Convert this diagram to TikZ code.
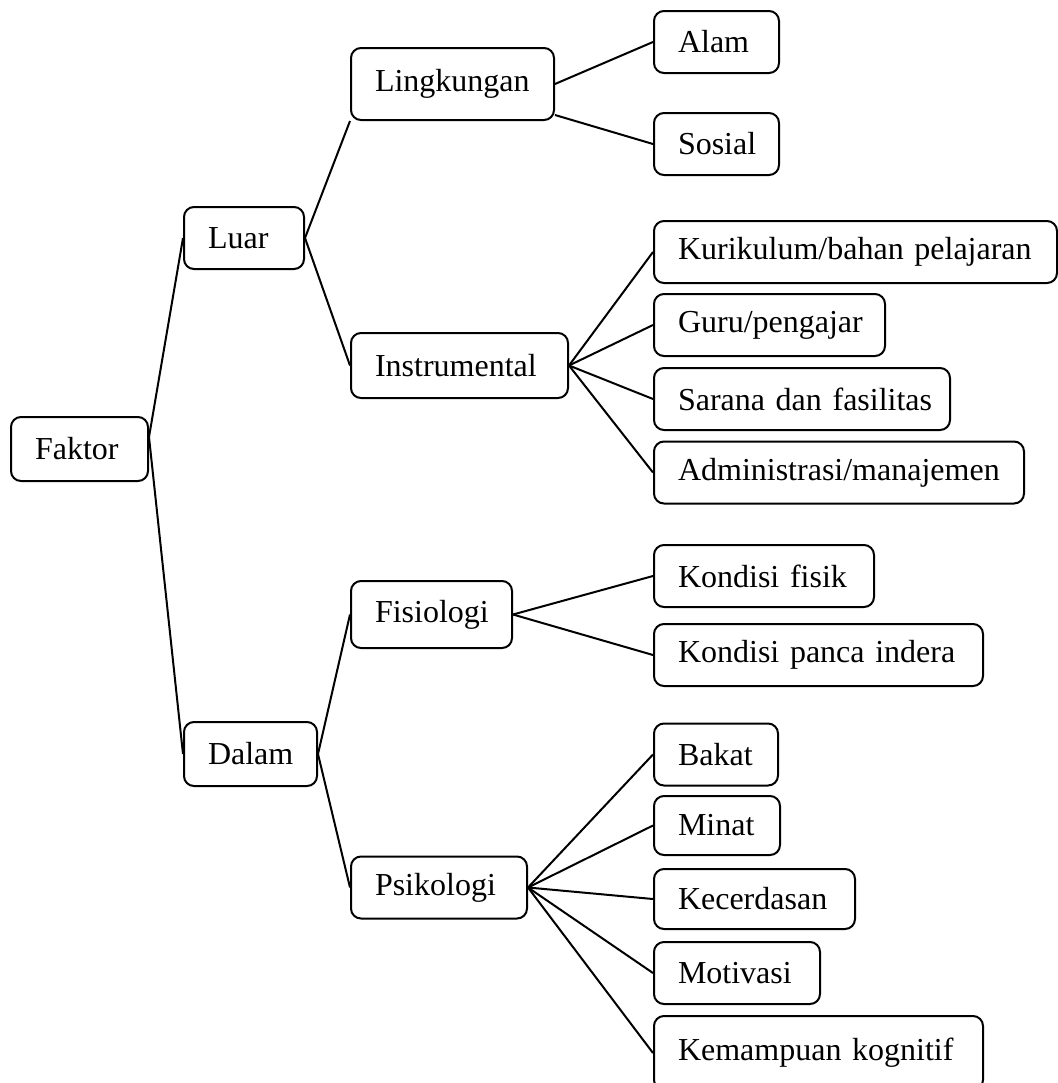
\documentclass[tikz,border=0pt]{standalone}
\usepackage{fontspec}
\setmainfont{Liberation Serif}
\usepackage{tikz}

\begin{document}
\begin{tikzpicture}[
    x=0.5pt, y=-0.5pt,
    box/.style={rectangle, draw, line width=1pt, rounded corners=5pt, anchor=west,
        inner xsep=12pt, inner ysep=2pt, align=left, minimum height=31pt,
        font=\fontsize{16pt}{19pt}\selectfont},
    link/.style={line width=1pt}
]
    \useasboundingbox (0,0) rectangle (1057,1083);

    % Root and first level
    \node[box, text width=44.5pt, minimum height=32pt] (faktor) at (10,449) {Faktor};
    \node[box, text width=36pt] (luar) at (183,238) {Luar};
    \node[box, text width=42.5pt, minimum height=32pt] (dalam) at (183,754) {Dalam};

    % Second level
    \node[box, text width=77.5pt, minimum height=36pt] (lingkungan) at (350,84) {Lingkungan};
    \node[box, text width=84.5pt, minimum height=32.5pt] (instrumental) at (350,365.5) {Instrumental};
    \node[box, text width=56.5pt, minimum height=33.5pt] (fisiologi) at (350,614.5) {Fisiologi};
    \node[box, text width=64pt] (psikologi) at (350,887.5) {Psikologi};

    % Leaves of Luar
    \node[box, text width=38.5pt] (alam) at (653,42) {Alam};
    \node[box, text width=38.5pt] (sosial) at (653,144) {Sosial};
    \node[box, text width=177.5pt] (kurikulum) at (653,252) {\mbox{Kurikulum/bahan pelajaran}};
    \node[box, text width=91.5pt] (guru) at (653,325) {Guru/pengajar};
    \node[box, text width=124pt] (sarana) at (653,399) {\mbox{Sarana dan fasilitas}};
    \node[box, text width=161pt] (admin) at (653,472.5) {Administrasi/manajemen};

    % Leaves of Dalam
    \node[box, text width=86pt] (fisik) at (653,576) {Kondisi fisik};
    \node[box, text width=140.5pt] (panca) at (653,655) {\mbox{Kondisi panca indera}};
    \node[box, text width=38pt] (bakat) at (653,754.5) {Bakat};
    \node[box, text width=39pt, minimum height=29.5pt] (minat) at (653,825.5) {Minat};
    \node[box, text width=76.5pt, minimum height=30pt] (kecerdasan) at (653,899) {Kecerdasan};
    \node[box, text width=59pt] (motivasi) at (653,973) {Motivasi};
    \node[box, text width=140.5pt, minimum height=37pt] (kognitif) at (653,1053) {\mbox{Kemampuan kognitif}};

    % Connectors
    \draw[link] ([yshift=6pt]faktor.east) -- (luar.west);
    \draw[link] ([yshift=6pt]faktor.east) -- (dalam.west);

    \draw[link] (luar.east) -- (lingkungan.south west);
    \draw[link] (luar.east) -- (instrumental.west);
    \draw[link] (lingkungan.east) -- (alam.west);
    \draw[link] ([yshift=3pt]lingkungan.south east) -- (sosial.west);
    \draw[link] (instrumental.east) -- (kurikulum.west);
    \draw[link] (instrumental.east) -- (guru.west);
    \draw[link] (instrumental.east) -- (sarana.west);
    \draw[link] (instrumental.east) -- (admin.west);

    \draw[link] (dalam.east) -- (fisiologi.west);
    \draw[link] (dalam.east) -- (psikologi.west);
    \draw[link] (fisiologi.east) -- (fisik.west);
    \draw[link] (fisiologi.east) -- (panca.west);
    \draw[link] (psikologi.east) -- (bakat.west);
    \draw[link] (psikologi.east) -- (minat.west);
    \draw[link] (psikologi.east) -- (kecerdasan.west);
    \draw[link] (psikologi.east) -- (motivasi.west);
    \draw[link] (psikologi.east) -- (kognitif.west);

\end{tikzpicture}
\end{document}
